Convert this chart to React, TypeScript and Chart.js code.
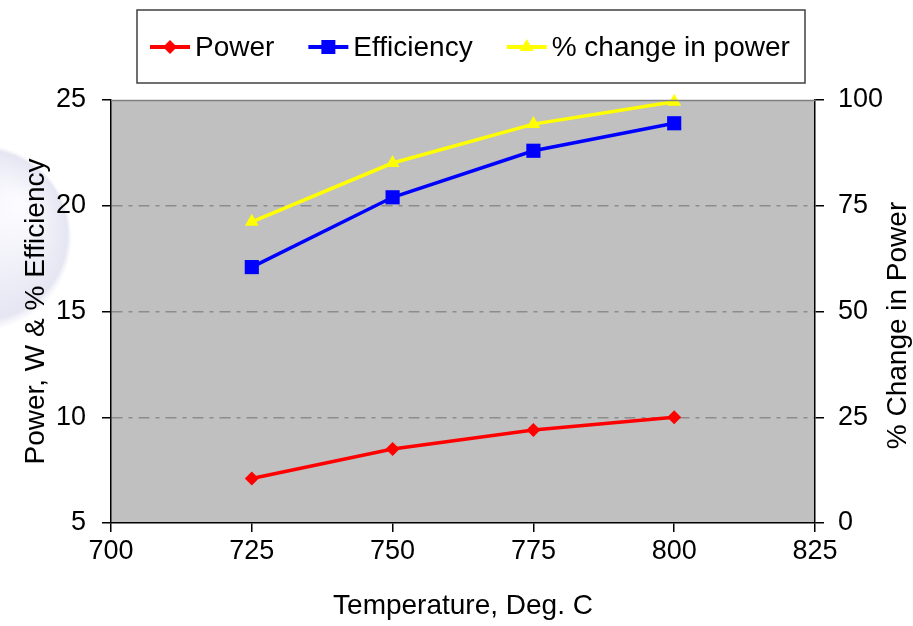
import { useEffect, useRef } from 'react';
import { Chart, registerables } from 'chart.js';

Chart.register(...registerables);

// ---- data ----
const temperatures = [725, 750, 775, 800];
const powerW = [7.1, 8.5, 9.4, 10.0];
const efficiencyPct = [17.1, 20.4, 22.6, 23.9];
const pctChangeInPower = [71.2, 85.1, 94.3, 99.6];

const seriesLabels = ['Power', 'Efficiency', '% change in power'];
const seriesColors = ['#FF0000', '#0000FF', '#FFFF00'];

const xTitle = 'Temperature, Deg. C';
const yLeftTitle = 'Power, W & % Efficiency';
const yRightTitle = '% Change in Power';

const xMin = 700, xMax = 825, xStep = 25;
const yMin = 5, yMax = 25, yStep = 5;
const y1Min = 0, y1Max = 100, y1Step = 25;

const FONT = "'Liberation Sans', Arial, sans-serif";

function toPoints(ys: number[]) {
  return temperatures.map((x, i) => ({ x, y: ys[i] }));
}

function drawMarker(ctx: CanvasRenderingContext2D, style: string, x: number, y: number, color: string) {
  ctx.fillStyle = color;
  ctx.beginPath();
  if (style === 'rectRot') {
    const r = 7;
    ctx.moveTo(x, y - r);
    ctx.lineTo(x + r, y);
    ctx.lineTo(x, y + r);
    ctx.lineTo(x - r, y);
  } else if (style === 'rect') {
    const s = 7;
    ctx.rect(x - s, y - s, 2 * s, 2 * s);
  } else {
    const r = 8;
    ctx.moveTo(x, y - r);
    ctx.lineTo(x + r * 0.866, y + r / 2);
    ctx.lineTo(x - r * 0.866, y + r / 2);
  }
  ctx.closePath();
  ctx.fill();
}

const bgPlugin = {
  id: 'bgPlugin',
  beforeDraw(chart: any) {
    const { ctx, chartArea } = chart;
    ctx.save();
    // faint watermark sphere
    const g = ctx.createRadialGradient(20, 205, 5, -22, 238, 94);
    g.addColorStop(0, '#fcfcff');
    g.addColorStop(0.6, '#ededf7');
    g.addColorStop(0.9, '#e6e6f3');
    g.addColorStop(1, 'rgba(236,236,246,0)');
    ctx.fillStyle = g;
    ctx.beginPath();
    ctx.arc(-22, 238, 94, 0, Math.PI * 2);
    ctx.fill();
    // plot area
    ctx.fillStyle = '#C0C0C0';
    ctx.fillRect(chartArea.left, chartArea.top, chartArea.right - chartArea.left, chartArea.bottom - chartArea.top);
    ctx.restore();
  },
  afterDraw(chart: any) {
    const { ctx, chartArea } = chart;
    ctx.save();
    // top border of plot area
    ctx.strokeStyle = '#808080';
    ctx.lineWidth = 1.5;
    ctx.beginPath();
    ctx.moveTo(chartArea.left, chartArea.top + 0.5);
    ctx.lineTo(chartArea.right, chartArea.top + 0.5);
    ctx.stroke();

    // right axis title, reading bottom-to-top
    ctx.save();
    ctx.font = `28px ${FONT}`;
    ctx.fillStyle = '#000';
    ctx.textAlign = 'center';
    ctx.textBaseline = 'middle';
    ctx.translate(chart.width - 15, (chartArea.top + chartArea.bottom) / 2 + 14);
    ctx.rotate(-Math.PI / 2);
    ctx.fillText(yRightTitle, 0, 0);
    ctx.restore();

    // legend box
    const boxL = 137, boxT = 10, boxR = 805, boxB = 83;
    ctx.fillStyle = '#ffffff';
    ctx.fillRect(boxL, boxT, boxR - boxL, boxB - boxT);
    ctx.strokeStyle = '#404040';
    ctx.lineWidth = 1.5;
    ctx.strokeRect(boxL, boxT, boxR - boxL, boxB - boxT);

    ctx.font = `28px ${FONT}`;
    ctx.textBaseline = 'middle';
    ctx.textAlign = 'left';
    const cy = 47;
    let x = 150;
    chart.data.datasets.forEach((ds: any) => {
      ctx.strokeStyle = ds.borderColor;
      ctx.lineWidth = 4;
      ctx.beginPath();
      ctx.moveTo(x, cy);
      ctx.lineTo(x + 40, cy);
      ctx.stroke();
      drawMarker(ctx, ds.pointStyle, x + 20, cy, ds.borderColor);
      ctx.fillStyle = '#000';
      ctx.fillText(ds.label, x + 45, cy + 1);
      const w = ctx.measureText(ds.label).width;
      x += 45 + w + 34;
    });
    ctx.restore();
  },
};

export default function App() {
  const ref = useRef<HTMLCanvasElement | null>(null);

  useEffect(() => {
    if (!ref.current) return;
    const pointStyles = ['rectRot', 'rect', 'triangle'];
    const radii = [7, 10, 8];
    const sets = [powerW, efficiencyPct, pctChangeInPower];
    const chart = new Chart(ref.current, {
      type: 'line',
      data: {
        datasets: sets.map((s, i) => ({
          label: seriesLabels[i],
          data: toPoints(s),
          borderColor: seriesColors[i],
          backgroundColor: seriesColors[i],
          pointBackgroundColor: seriesColors[i],
          pointBorderWidth: 0,
          pointStyle: pointStyles[i],
          pointRadius: radii[i],
          borderWidth: 3.5,
          tension: 0,
          clip: false,
          yAxisID: i === 2 ? 'y1' : 'y',
        })),
      },
      options: {
        animation: false,
        responsive: true,
        maintainAspectRatio: false,
        layout: { padding: { top: 100, left: 0, right: 0, bottom: 0 } },
        plugins: { legend: { display: false }, tooltip: { enabled: false } },
        scales: {
          x: {
            type: 'linear',
            min: xMin,
            max: xMax,
            ticks: { stepSize: xStep, color: '#000', font: { family: FONT, size: 27 }, padding: 3 },
            grid: { color: 'transparent', tickColor: '#000', tickLength: 9, lineWidth: 1.5 },
            border: { color: '#000', width: 1.5 },
            title: { display: true, text: xTitle, color: '#000', font: { family: FONT, size: 28 }, padding: { top: 0, bottom: 3 } },
            afterFit: (s: any) => { s.height = 103; },
          },
          y: {
            type: 'linear',
            position: 'left',
            min: yMin,
            max: yMax,
            ticks: { stepSize: yStep, color: '#000', font: { family: FONT, size: 27 }, padding: 16 },
            grid: {
              color: (c: any) => (c.tick && (c.tick.value === yMin || c.tick.value === yMax) ? 'transparent' : '#8c8c8c'),
              tickColor: '#000',
              tickLength: 9,
              lineWidth: 1.5,
            },
            border: { color: '#000', width: 1.5, dash: [11, 6, 4, 6] },
            title: { display: true, text: yLeftTitle, color: '#000', font: { family: FONT, size: 28 }, padding: { top: 19, bottom: 0 } },
            afterFit: (s: any) => { s.width = 111; },
          },
          y1: {
            type: 'linear',
            position: 'right',
            min: y1Min,
            max: y1Max,
            ticks: { stepSize: y1Step, color: '#000', font: { family: FONT, size: 27 }, padding: 14 },
            grid: { drawOnChartArea: false, tickColor: '#000', tickLength: 9, lineWidth: 1.5 },
            border: { color: '#000', width: 1.5 },
            title: { display: false, text: yRightTitle },
            afterFit: (s: any) => { s.width = 98; },
          },
        },
      },
      plugins: [bgPlugin],
    });
    return () => chart.destroy();
  }, []);

  return (
    <div style={{ position: 'absolute', left: 0, top: 0, width: 913, height: 626, background: '#fff' }}>
      <canvas ref={ref} />
    </div>
  );
}
